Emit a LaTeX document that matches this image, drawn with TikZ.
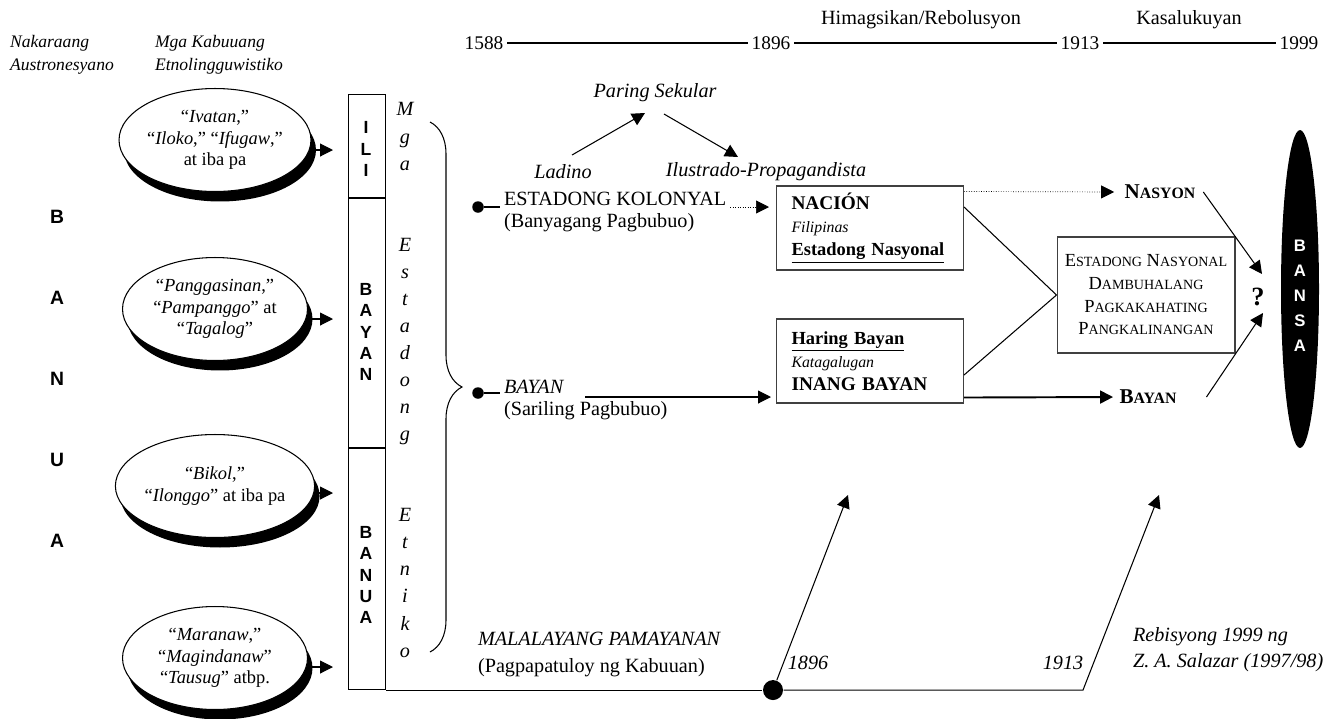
\documentclass[tikz,border=0pt]{standalone}
\usepackage{fontspec}
\setmainfont{Liberation Serif}
\setsansfont{Liberation Sans}
\usetikzlibrary{arrows.meta,shapes.geometric,shadows,decorations.pathreplacing,calc}

\newcommand{\smcp}[2][8]{{\fontsize{#1}{#1}\selectfont #2}}

\tikzset{
  arr/.style={-{Triangle[length=0.26cm,width=0.26cm]}},
  oval/.style={ellipse, draw, fill=white, minimum width=3.7cm, minimum height=2.06cm,
    inner sep=0pt, align=center, font=\fontsize{10.5}{12.4}\selectfont,
    drop shadow={shadow xshift=0.1cm, shadow yshift=-0.2cm, fill=black, opacity=1}},
  colbox/.style={draw, minimum width=0.74cm, inner sep=0pt},
  sfletters/.style={font=\sffamily\bfseries\fontsize{10}{12}\selectfont, align=center, inner sep=0pt},
  body/.style={font=\fontsize{11.5}{14.8}\selectfont, inner sep=2pt},
  ibody/.style={font=\itshape\fontsize{11.5}{14.8}\selectfont, inner sep=2pt},
  head/.style={font=\itshape\fontsize{10}{13}\selectfont, align=left, anchor=west, inner sep=2pt},
  dot/.style={circle, fill=black, inner sep=0pt, minimum size=0.23cm},
  infobox/.style={draw=black!75, text width=3.14cm, inner xsep=0.3cm, minimum height=1.68cm,
    align=left, font=\fontsize{10.5}{13.1}\selectfont},
}

\begin{document}
\begin{tikzpicture}[x=0.02cm, y=-0.02cm, line width=0.6pt]
    \useasboundingbox (0,0) rectangle (1342,718);
    % Column headings (left)
    \node[head] (nakaraan) at (6,55) {Nakaraang\\Austronesyano};
    \node[head] (kabuuan) at (151,55) {Mga Kabuuang\\Etnolingguwistiko};
    % Timeline (top)
    \foreach \n/\x in {1588/484,1896/771,1913/1080,1999/1299}
        \node[body, font=\fontsize{11}{13}\selectfont] (y\n) at (\x,43) {\n};
    \foreach \a/\b in {1588/1896,1896/1913,1913/1999}
        \draw (y\a) -- (y\b);
    \node[body] (himagsikan) at (921,20) {Himagsikan/Rebolusyon};
    \node[body] (kasalukuyan) at (1189,20) {Kasalukuyan};
    % BANUA letters (far left)
    \foreach \l [count=\i from 0] in {B,A,N,U,A}
        \node[sfletters, font=\sffamily\bfseries\fontsize{11}{12}\selectfont] (banua\i) at (57,{217+81*\i}) {\l};
    % Ethnolinguistic groups
    \node[oval] (ivatan) at (215,140) {“\textit{Ivatan},”\\“\textit{Iloko},” “\textit{Ifugaw},”\\at iba pa};
    \node[oval] (pangasinan) at (215,309) {“\textit{Panggasinan},”\\“\textit{Pampanggo}” at\\“\textit{Tagalog}”};
    \node[oval] (bikol) at (215,486) {“\textit{Bikol},”\\“\textit{Ilonggo}” at iba pa};
    \node[oval] (maranaw) at (215,658) {“\textit{Maranaw},”\\“\textit{Magindanaw}”\\“\textit{Tausug}” atbp.};
    \foreach \e/\y in {ivatan/150,pangasinan/319,bikol/493,maranaw/667} {
        \coordinate (\e-tip) at (333,\y);
        \draw[arr] (\e.east |- \e-tip) -- (\e-tip);
    }
    % Ili / Bayan / Banua column
    \node[colbox, minimum height=2.06cm, anchor=north west] (ili) at (348,94) {};
    \node[colbox, minimum height=4.98cm, anchor=north] (bayan) at (ili.south) {};
    \node[colbox, minimum height=4.82cm, anchor=north] (banua) at (bayan.south) {};
    \node[sfletters] (ilitxt) at (366,149) {I\\L\\I};
    \node[sfletters] (bayantxt) at (366,332) {B\\A\\Y\\A\\N};
    \node[sfletters] (banuatxt) at (366,575) {B\\A\\N\\U\\A};
    % Mga Estadong Etniko and brace
    \node[ibody, align=center, font=\itshape\fontsize{11.5}{15.4}\selectfont] (estadong) at (405,380)
        {M\\g\\a\\\mbox{}\\\mbox{}\\E\\s\\t\\a\\d\\o\\n\\g\\\mbox{}\\\mbox{}\\E\\t\\n\\i\\k\\o};
    \coordinate (bracetop) at (430,122);
    \coordinate (bracebot) at (430,652);
    \draw[decorate, decoration={brace, amplitude=0.64cm}] (bracetop) -- (bracebot);
    % Estadong Kolonyal branch
    \node[dot] (kdot) at (478,207) {};
    \node[body, anchor=west] (kolonyal) at (500,199) {ESTADONG KOLONYAL};
    \node[body, anchor=north west] (banyaga) at (kolonyal.south west) {(Banyagang Pagbubuo)};
    \draw (kdot) -- (kdot -| kolonyal.west);
    \node[ibody] (ladino) at (563,172) {Ladino};
    \node[ibody] (ilustrado) at (766,172) {Ilustrado-Propagandista};
    \node[ibody] (paring) at (655,93) {Paring Sekular};
    \draw[arr] ($(ladino)+(9,-17)$) -- ($(paring)+(-10,20)$);
    \draw[arr] ($(paring)+(9,21)$) -- ($(ilustrado)+(-28,-15)$);
    % Bayan branch
    \node[dot] (bdot) at (478,393) {};
    \node[ibody, anchor=west] (bayanit) at (500,387) {BAYAN};
    \node[body, anchor=north west] (sariling) at (bayanit.south west) {(Sariling Pagbubuo)};
    \draw (bdot) -- (bdot -| bayanit.west);
    % Boxes 1896
    \node[infobox] (nacion) at (870,228) {{\bfseries\fontsize{11}{13}\selectfont NACIÓN}\\{\itshape\fontsize{9}{13}\selectfont Filipinas}\\\textbf{\underline{Estadong Nasyonal}}};
    \node[infobox] (haring) at (870,361) {\textbf{\underline{Haring Bayan}}\\{\itshape\fontsize{9}{13}\selectfont Katagalugan}\\{\bfseries\fontsize{11}{13}\selectfont INANG BAYAN}};
    \draw[arr, line width=0.4pt, densely dotted, shorten >=0.14cm] (kolonyal.east |- kdot) -- (nacion.west |- kdot);
    \coordinate (sarstart) at (585,397);
    \draw[arr, shorten >=0.1cm] (sarstart) -- (sarstart -| haring.west);
    % Right side
    \node[draw=black!75, minimum width=3.56cm, minimum height=2.32cm, align=center, font=\fontsize{10.5}{12.9}\selectfont] (estnas) at (1146,295)
        {E\smcp{STADONG} N\smcp{ASYONAL}\\D\smcp{AMBUHALANG}\\P\smcp{AGKAKAHATING}\\P\smcp{ANGKALINANGAN}};
    \node[inner sep=2pt, font=\bfseries\fontsize{12}{12}\selectfont] (nasyon) at (1160,192) {N\smcp[9]{ASYON}};
    \node[inner sep=2pt, font=\bfseries\fontsize{12}{12}\selectfont] (bayanr) at (1148,397) {B\smcp[9]{AYAN}};
    \draw[arr, line width=0.4pt, densely dotted, shorten >=0.13cm] ($(nacion.north east)+(0,6)$) -- (nasyon.west);
    \draw ($(nacion.east)+(0,-21)$) -- (estnas.west);
    \draw ($(haring.east)+(0,14)$) -- (estnas.west);
    \draw[arr, line width=1.1pt, shorten >=0.05cm] ($(haring.south east)+(0,-6)$) -- (bayanr.west);
    \node[font=\bfseries\fontsize{15}{15}\selectfont] (qmark) at (1258,297) {?};
    \draw[arr] ($(nasyon.east)+(4,0)$) -- ($(qmark)+(4,-23)$);
    \draw[arr] ($(bayanr.east)+(26,0)$) -- ($(qmark)+(5,16)$);
    \node[ellipse, fill=black, minimum width=0.76cm, minimum height=6.36cm, inner sep=0pt] (bansa) at (1300,289) {};
    \node[font=\sffamily\bfseries\fontsize{9.5}{14.2}\selectfont, text=white, align=center] (bansatxt) at (1300,296) {B\\A\\N\\S\\A};
    % Malalayang pamayanan (bottom)
    \coordinate (x773) at (773,0);
    \coordinate (x1083) at (1083,0);
    \node[dot, minimum size=0.4cm] (d1896) at (x773 |- banua.south east) {};
    \coordinate (k1913) at (x1083 |- banua.south east);
    \coordinate (t1896) at (848,495);
    \coordinate (t1913) at (1159,495);
    \draw (banua.south east) -- (d1896);
    \draw[arr] (d1896) -- (k1913) -- (t1913);
    \draw[arr] (d1896) -- (t1896);
    \node[ibody] (l1896) at (808,663) {1896};
    \node[ibody] (l1913) at (1063,663) {1913};
    \node[ibody, anchor=west] (malaya) at (474,639) {MALALAYANG PAMAYANAN};
    \node[body, anchor=west] (patuloy) at (474,668) {(Pagpapatuloy ng Kabuuan)};
    \node[ibody, anchor=west, align=left] (rebisyon) at (1129,650) {Rebisyong 1999 ng\\Z. A. Salazar (1997/98)};
\end{tikzpicture}
\end{document}
